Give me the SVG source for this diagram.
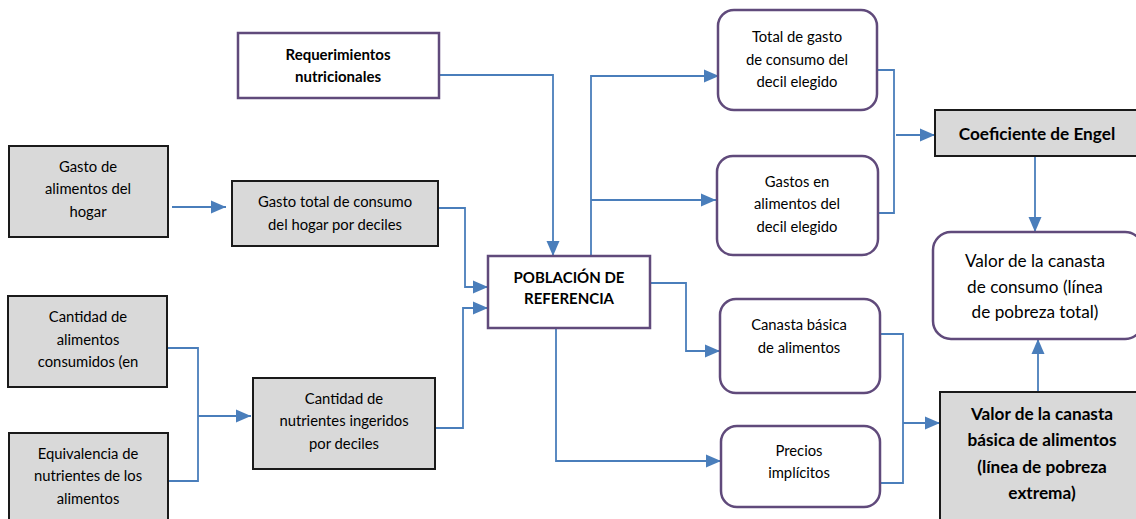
<svg xmlns="http://www.w3.org/2000/svg" width="1136" height="519" viewBox="0 0 1136 519">
<defs>
<marker id="ah" markerUnits="userSpaceOnUse" markerWidth="16" markerHeight="16" viewBox="0 0 16 16" refX="15" refY="8" orient="auto">
<path d="M0,1.5 L15,8 L0,14.5 Z" fill="#4A7EBB"/>
</marker>
<style>
.g{fill:#D9D9D9;stroke:#1a1a1a;stroke-width:2}
.p{fill:#FFFFFF;stroke:#604A7B;stroke-width:2.5}
.c{fill:none;stroke:#4A7EBB;stroke-width:1.8}
.a{marker-end:url(#ah)}
text{font-family:Lato,"Open Sans","Liberation Sans",sans-serif;font-size:14.8px;fill:#000;text-anchor:middle}
.b{font-weight:bold;font-size:15px}
.l{font-size:17.2px}
</style>
</defs>
<rect width="1136" height="519" fill="#FFFFFF"/>
<g id="connectors">
<path class="c a" d="M172,207 H226"/>
<path class="c" d="M167,348 H198 V481 H168"/>
<path class="c a" d="M198,416 H251"/>
<path class="c a" d="M440,75 H553 V256"/>
<path class="c a" d="M438,208 H465 V287 H488"/>
<path class="c a" d="M435,428 H463 V308 H488"/>
<path class="c a" d="M591,256 V76 H719"/>
<path class="c a" d="M591,200 H716"/>
<path class="c a" d="M650,283 H686 V351 H720"/>
<path class="c a" d="M556,328 V461 H721"/>
<path class="c" d="M877,70 H894 V213 H878"/>
<path class="c a" d="M896,135 H935"/>
<path class="c" d="M880,334 H903 V483 H880"/>
<path class="c a" d="M903,423 H940"/>
<path class="c a" d="M1035,156 V232"/>
<path class="c a" d="M1038,392 V339"/>
</g>
<g id="gasto-alimentos">
<rect class="g" x="9" y="146" width="159" height="91"/>
<text x="88" y="172">Gasto de</text>
<text x="88" y="194">alimentos del</text>
<text x="88" y="217">hogar</text>
</g>
<g id="cantidad-alimentos">
<rect class="g" x="8" y="296" width="159" height="91"/>
<text x="88" y="322">Cantidad de</text>
<text x="88" y="345">alimentos</text>
<text x="88" y="367">consumidos (en</text>
</g>
<g id="equivalencia">
<rect class="g" x="9" y="433" width="159" height="95"/>
<text x="88" y="459">Equivalencia de</text>
<text x="88" y="481">nutrientes de los</text>
<text x="88" y="504">alimentos</text>
</g>
<g id="gasto-total">
<rect class="g" x="232" y="181" width="206" height="65"/>
<text x="335" y="207">Gasto total de consumo</text>
<text x="335" y="230">del hogar por deciles</text>
</g>
<g id="cantidad-nutrientes">
<rect class="g" x="253" y="378" width="182" height="91"/>
<text x="344" y="404">Cantidad de</text>
<text x="344" y="426">nutrientes ingeridos</text>
<text x="344" y="449">por deciles</text>
</g>
<g id="requerimientos">
<rect class="p" x="238" y="33" width="201" height="65"/>
<text class="b" x="338" y="60">Requerimientos</text>
<text class="b" x="338" y="82">nutricionales</text>
</g>
<g id="poblacion">
<rect class="p" x="488" y="256" width="162" height="72"/>
<text class="b" x="569" y="283">POBLACIÓN DE</text>
<text class="b" x="569" y="304">REFERENCIA</text>
</g>
<g id="total-gasto">
<rect class="p" x="718" y="10" width="159" height="100" rx="16"/>
<text x="797" y="42">Total de gasto</text>
<text x="797" y="65">de consumo del</text>
<text x="797" y="87">decil elegido</text>
</g>
<g id="gastos-alimentos-decil">
<rect class="p" x="717" y="156" width="161" height="99" rx="16"/>
<text x="797" y="187">Gastos en</text>
<text x="797" y="209">alimentos del</text>
<text x="797" y="232">decil elegido</text>
</g>
<g id="canasta-basica">
<rect class="p" x="720" y="299" width="160" height="94" rx="16"/>
<text x="799" y="330">Canasta básica</text>
<text x="799" y="353">de alimentos</text>
</g>
<g id="precios">
<rect class="p" x="721" y="426" width="159" height="81" rx="16"/>
<text x="799" y="456">Precios</text>
<text x="799" y="478">implícitos</text>
</g>
<g id="engel">
<rect class="g" x="935" y="110" width="205" height="46"/>
<text class="b l" x="1037" y="140">Coeficiente de Engel</text>
</g>
<g id="valor-consumo">
<rect class="p" x="933" y="232" width="210" height="107" rx="18"/>
<text class="l" x="1035" y="267">Valor de la canasta</text>
<text class="l" x="1035" y="293">de consumo (línea</text>
<text class="l" x="1035" y="318">de pobreza total)</text>
</g>
<g id="valor-basica">
<rect class="g" x="940" y="392" width="205" height="135"/>
<text class="b l" x="1042" y="420">Valor de la canasta</text>
<text class="b l" x="1042" y="446">básica de alimentos</text>
<text class="b l" x="1042" y="473">(línea de pobreza</text>
<text class="b l" x="1042" y="499">extrema)</text>
</g>
</svg>
